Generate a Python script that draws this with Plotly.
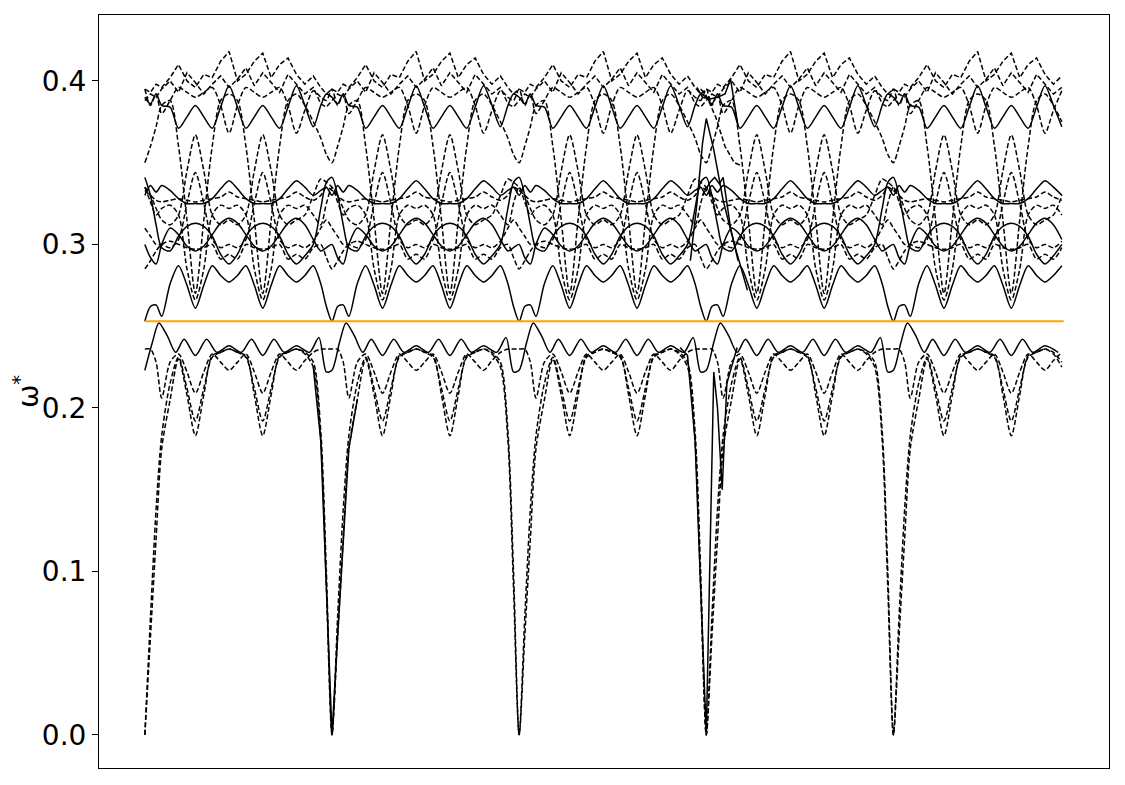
import plotly.graph_objects as go

# segment grid (fraction of one repeat cell) shared by most bands
seg_grid = [0.000, 0.030, 0.060, 0.090, 0.135, 0.180, 0.225, 0.270, 0.315, 0.360,
            0.405, 0.450, 0.495, 0.540, 0.585, 0.630, 0.675, 0.720, 0.765, 0.810,
            0.855, 0.900, 0.940, 0.970]

# solid bands above the orange line
s1_vals = [0.253, 0.262, 0.263, 0.256, 0.276, 0.287, 0.275, 0.261, 0.275, 0.287,
           0.281, 0.277, 0.281, 0.287, 0.275, 0.261, 0.275, 0.287, 0.281, 0.277,
           0.281, 0.287, 0.276, 0.262]
s2_vals = [0.341, 0.330, 0.312, 0.298, 0.296, 0.305, 0.311, 0.313, 0.311, 0.305,
           0.294, 0.288, 0.294, 0.305, 0.311, 0.313, 0.311, 0.305, 0.294, 0.288,
           0.293, 0.300, 0.322, 0.338]
s3_vals = [0.300, 0.292, 0.288, 0.300, 0.310, 0.306, 0.299, 0.296, 0.299, 0.306,
           0.313, 0.316, 0.313, 0.306, 0.299, 0.296, 0.299, 0.306, 0.313, 0.316,
           0.312, 0.303, 0.296, 0.298]
s4_vals = [0.330, 0.336, 0.332, 0.336, 0.333, 0.328, 0.325, 0.325, 0.325, 0.328,
           0.334, 0.339, 0.334, 0.328, 0.325, 0.325, 0.325, 0.328, 0.334, 0.339,
           0.335, 0.330, 0.333, 0.335]
stop_vals = [0.390, 0.386, 0.392, 0.385, 0.384, 0.371, 0.378, 0.385, 0.378, 0.371,
             0.384, 0.397, 0.384, 0.371, 0.378, 0.385, 0.378, 0.371, 0.384, 0.397,
             0.385, 0.372, 0.385, 0.392]

# dashed bands above the orange line
d1_vals = [0.335, 0.326, 0.318, 0.322, 0.324, 0.318, 0.285, 0.266, 0.285, 0.318,
           0.324, 0.322, 0.324, 0.318, 0.285, 0.266, 0.285, 0.318, 0.324, 0.322,
           0.324, 0.318, 0.312, 0.325]
d2_vals = [0.350, 0.360, 0.372, 0.385, 0.388, 0.360, 0.315, 0.270, 0.315, 0.360,
           0.388, 0.392, 0.388, 0.360, 0.315, 0.270, 0.315, 0.360, 0.388, 0.392,
           0.385, 0.375, 0.365, 0.355]
d3_vals = [0.335, 0.330, 0.322, 0.315, 0.312, 0.318, 0.345, 0.367, 0.345, 0.318,
           0.312, 0.315, 0.312, 0.318, 0.345, 0.367, 0.345, 0.318, 0.312, 0.315,
           0.318, 0.330, 0.340, 0.338]
d4_vals = [0.310, 0.305, 0.300, 0.300, 0.298, 0.303, 0.325, 0.344, 0.325, 0.303,
           0.298, 0.300, 0.298, 0.303, 0.325, 0.344, 0.325, 0.303, 0.298, 0.300,
           0.298, 0.302, 0.310, 0.315]
d5_vals = [0.333, 0.330, 0.327, 0.326, 0.327, 0.328, 0.327, 0.326, 0.327, 0.328,
           0.329, 0.332, 0.329, 0.328, 0.327, 0.326, 0.327, 0.328, 0.329, 0.332,
           0.329, 0.327, 0.330, 0.335]
d6_vals = [0.285, 0.290, 0.296, 0.300, 0.302, 0.300, 0.298, 0.297, 0.298, 0.300,
           0.291, 0.294, 0.291, 0.300, 0.298, 0.297, 0.298, 0.300, 0.291, 0.294,
           0.291, 0.298, 0.300, 0.292]
d7_vals = [0.395, 0.385, 0.392, 0.380, 0.388, 0.396, 0.393, 0.390, 0.393, 0.396,
           0.385, 0.368, 0.385, 0.396, 0.393, 0.390, 0.393, 0.396, 0.385, 0.368,
           0.382, 0.394, 0.390, 0.388]
d8_vals = [0.395, 0.393, 0.398, 0.396, 0.402, 0.410, 0.400, 0.396, 0.404, 0.402,
           0.412, 0.418, 0.400, 0.404, 0.412, 0.417, 0.402, 0.410, 0.414, 0.404,
           0.398, 0.403, 0.396, 0.392]
d9_vals = [0.388, 0.392, 0.390, 0.395, 0.400, 0.393, 0.405, 0.399, 0.392, 0.398,
           0.403, 0.396, 0.401, 0.408, 0.397, 0.405, 0.399, 0.393, 0.404, 0.398,
           0.392, 0.396, 0.386, 0.384]

# bands below the orange line
a1_vals = [0.000, 0.060, 0.120, 0.175, 0.205, 0.230, 0.208, 0.183, 0.208, 0.232,
           0.234, 0.236, 0.234, 0.232, 0.208, 0.183, 0.208, 0.232, 0.234, 0.236,
           0.233, 0.225, 0.180, 0.090]
a2_vals = [0.236, 0.236, 0.228, 0.206, 0.228, 0.233, 0.222, 0.209, 0.222, 0.233,
           0.228, 0.223, 0.228, 0.233, 0.222, 0.209, 0.222, 0.233, 0.228, 0.223,
           0.229, 0.234, 0.236, 0.236]
a3_vals = [0.000, 0.072, 0.138, 0.183, 0.215, 0.231, 0.212, 0.192, 0.212, 0.231,
           0.234, 0.236, 0.234, 0.231, 0.212, 0.192, 0.212, 0.231, 0.234, 0.236,
           0.234, 0.228, 0.186, 0.100]

l1_frac = [0.000, 0.040, 0.075, 0.120, 0.165, 0.210, 0.270, 0.330, 0.385, 0.450,
           0.515, 0.570, 0.630, 0.690, 0.745, 0.810, 0.880, 0.930, 0.970]
l1_vals = [0.223, 0.240, 0.252, 0.244, 0.234, 0.242, 0.232, 0.242, 0.234, 0.238,
           0.234, 0.242, 0.232, 0.242, 0.234, 0.238, 0.234, 0.243, 0.222]

# solid pieces that only show near some of the zone boundaries
b1_off = [-0.10, -0.06, -0.03, 0.00, 0.03, 0.06, 0.09, 0.135]
b1_vals = [0.225, 0.180, 0.090, 0.000, 0.060, 0.120, 0.175, 0.205]
b3_off = [-0.14, -0.10, -0.06, -0.03, 0.00, 0.02, 0.04, 0.06, 0.085, 0.11, 0.165]
b3_vals = [0.237, 0.232, 0.180, 0.090, 0.000, 0.110, 0.222, 0.200, 0.150, 0.215, 0.237]
sp1_off = [-0.085, -0.05, -0.02, 0.00, 0.04, 0.09, 0.15, 0.22]
sp1_vals = [0.290, 0.325, 0.362, 0.377, 0.358, 0.327, 0.300, 0.272]
sp2_off = [-0.02, 0.02, 0.045, 0.07, 0.09, 0.13, 0.17]
sp2_vals = [0.330, 0.338, 0.341, 0.337, 0.341, 0.310, 0.290]
sp3_off = [-0.05, -0.02, 0.02, 0.06, 0.10, 0.13, 0.17]
sp3_vals = [0.396, 0.390, 0.389, 0.390, 0.392, 0.401, 0.372]
sp4_off = [-0.03, 0.00, 0.05, 0.10, 0.15, 0.19]
sp4_vals = [0.395, 0.391, 0.378, 0.360, 0.350, 0.348]

n_seg = 5
last_frac = 0.91
fermi = 0.253


def tile(frac, vals):
    xs, ys = [], []
    for s in range(n_seg):
        for f, v in zip(frac, vals):
            if s == n_seg - 1 and f > last_frac:
                break
            xs.append(s + f)
            ys.append(v)
    return xs, ys


def band(fig, frac, vals, dashed, shape="spline"):
    xs, ys = tile(frac, vals)
    fig.add_trace(
        go.Scatter(
            x=xs,
            y=ys,
            mode="lines",
            line=dict(
                color="black",
                width=1.5,
                dash="5px,2.5px" if dashed else "solid",
                shape=shape,
                smoothing=0.8,
            ),
            showlegend=False,
        )
    )


def piece(fig, centre, off, vals, dashed=False):
    fig.add_trace(
        go.Scatter(
            x=[centre + o for o in off],
            y=vals,
            mode="lines",
            line=dict(color="black", width=1.5, dash="5px,2.5px" if dashed else "solid"),
            showlegend=False,
        )
    )


fig = go.Figure()

for vals in [d1_vals, d2_vals, d3_vals, d4_vals, d5_vals, d6_vals, d7_vals]:
    band(fig, seg_grid, vals, True)
for vals in [d8_vals, d9_vals]:
    band(fig, seg_grid, vals, True, shape="linear")
for vals in [a1_vals, a2_vals, a3_vals]:
    band(fig, seg_grid, vals, True)

for vals in [s1_vals, s2_vals, s3_vals, s4_vals, stop_vals]:
    band(fig, seg_grid, vals, False)
band(fig, l1_frac, l1_vals, False)

piece(fig, 1.0, b1_off, b1_vals)
piece(fig, 3.0, b3_off, b3_vals)
piece(fig, 3.0, sp1_off, sp1_vals)
piece(fig, 3.0, sp2_off, sp2_vals)
piece(fig, 3.0, sp3_off, sp3_vals)
piece(fig, 3.0, sp4_off, sp4_vals, dashed=True)

fig.add_trace(
    go.Scatter(
        x=[0, n_seg - 1 + last_frac],
        y=[fermi, fermi],
        mode="lines",
        line=dict(color="#ffa500", width=2),
        showlegend=False,
    )
)

fig.update_layout(
    width=1117,
    height=777,
    margin=dict(l=89, r=16, t=6, b=17),
    plot_bgcolor="white",
    paper_bgcolor="white",
    font=dict(family="DejaVu Sans", color="black"),
    xaxis=dict(
        range=[-0.245, 5.152],
        showgrid=False,
        zeroline=False,
        showticklabels=False,
        ticks="",
        showline=True,
        linecolor="black",
        linewidth=1,
        mirror=True,
    ),
    yaxis=dict(
        range=[-0.0202, 0.4403],
        tickvals=[0.0, 0.1, 0.2, 0.3, 0.4],
        tickformat=".1f",
        ticks="outside",
        ticklen=6,
        tickcolor="black",
        tickfont=dict(size=28, family="DejaVu Sans"),
        showgrid=False,
        zeroline=False,
        showline=True,
        linecolor="black",
        linewidth=1,
        mirror=True,
        title=dict(text="ω<sup>*</sup>", font=dict(size=28, family="DejaVu Sans"), standoff=8),
    ),
)

fig.write_html("out.html")
